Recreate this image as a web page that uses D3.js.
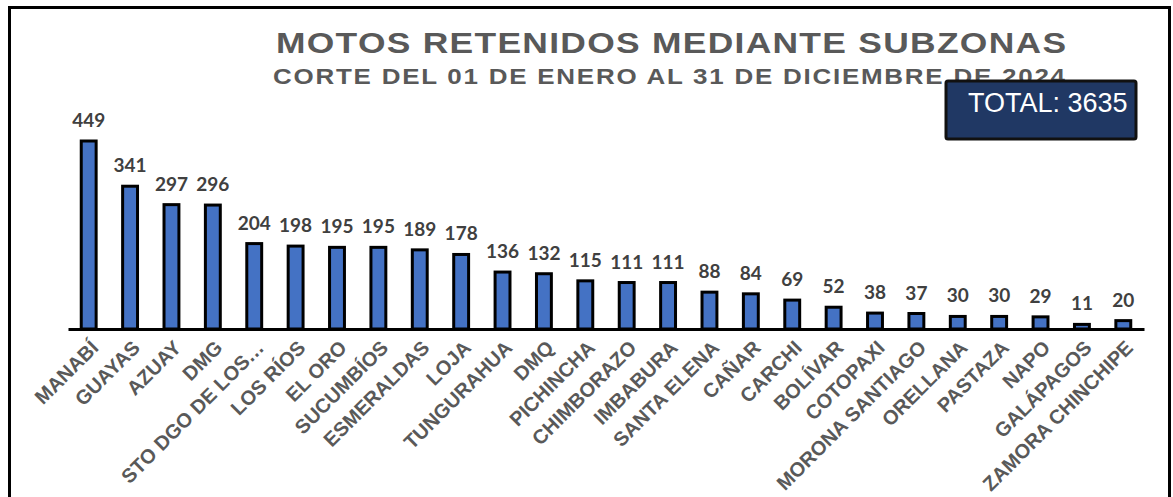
<!DOCTYPE html>
<html>
<head>
<meta charset="utf-8">
<title>Motos retenidos mediante subzonas</title>
<script src="https://d3js.org/d3.v7.min.js"></script>
<style>
  body { margin: 0; background: #fff; }
  svg { display: block; }
</style>
</head>
<body>
<div id="chart"></div>
<script>
// data
var categories = ["MANABÍ", "GUAYAS", "AZUAY", "DMG", "STO DGO DE LOS…", "LOS RÍOS", "EL ORO",
  "SUCUMBÍOS", "ESMERALDAS", "LOJA", "TUNGURAHUA", "DMQ", "PICHINCHA", "CHIMBORAZO",
  "IMBABURA", "SANTA ELENA", "CAÑAR", "CARCHI", "BOLÍVAR", "COTOPAXI", "MORONA SANTIAGO",
  "ORELLANA", "PASTAZA", "NAPO", "GALÁPAGOS", "ZAMORA CHINCHIPE"];
var values = [449, 341, 297, 296, 204, 198, 195, 195, 189, 178, 136, 132, 115, 111,
  111, 88, 84, 69, 52, 38, 37, 30, 30, 29, 11, 20];
var title = "MOTOS RETENIDOS MEDIANTE SUBZONAS";
var subtitle = "CORTE DEL 01 DE ENERO AL 31 DE DICIEMBRE DE 2024";
var totalLabel = "TOTAL: 3635";

var width = 1173, height = 497;
var baseY = 329;

var svg = d3.select("#chart").append("svg")
  .attr("width", width)
  .attr("height", height);

// outer frame
svg.append("rect")
  .attr("x", 9.5).attr("y", 7.5)
  .attr("width", 1160).attr("height", 520)
  .style("fill", "none")
  .style("stroke", "#000")
  .style("stroke-width", 3);

var x = d3.scaleBand()
  .domain(categories)
  .range([68, 1144])
  .paddingInner(0.64)
  .paddingOuter(0.32);

var y = d3.scaleLinear()
  .domain([0, 449])
  .range([baseY, 141]);

// titles (glyphs look stretched sideways in the original)
var stretch = 1.18;
svg.append("text")
  .attr("transform", "translate(671,53) scale(" + stretch + ",1)")
  .attr("text-anchor", "middle")
  .attr("textLength", 790 / stretch).attr("lengthAdjust", "spacing")
  .style("font-family", "'Liberation Sans', Arial, sans-serif")
  .style("font-weight", "bold")
  .style("font-size", "30px")
  .style("fill", "#595959")
  .text(title);

svg.append("text")
  .attr("transform", "translate(669,84) scale(" + stretch + ",1)")
  .attr("text-anchor", "middle")
  .attr("textLength", 792 / stretch).attr("lengthAdjust", "spacing")
  .style("font-family", "'Liberation Sans', Arial, sans-serif")
  .style("font-weight", "bold")
  .style("font-size", "22px")
  .style("fill", "#595959")
  .text(subtitle);

// bars
svg.selectAll("rect.bar")
  .data(values)
  .enter()
  .append("rect")
  .attr("class", "bar")
  .attr("x", function(d, i) { return x(categories[i]); })
  .attr("y", function(d) { return y(d); })
  .attr("width", x.bandwidth())
  .attr("height", function(d) { return baseY - y(d); })
  .style("fill", "#4472C4")
  .style("stroke", "#000")
  .style("stroke-width", 3);

// value labels
svg.selectAll("text.val")
  .data(values)
  .enter()
  .append("text")
  .attr("class", "val")
  .attr("x", function(d, i) { return x(categories[i]) + x.bandwidth() / 2; })
  .attr("y", function(d) { return y(d) - 14; })
  .attr("text-anchor", "middle")
  .style("font-family", "Lato, 'Open Sans', sans-serif")
  .style("font-weight", "bold")
  .style("font-size", "19px")
  .style("fill", "#404040")
  .text(function(d) { return d; });

// axis
var axis = svg.append("g")
  .attr("transform", "translate(0," + baseY + ")")
  .call(d3.axisBottom(x).tickSize(0).tickPadding(0));
axis.select(".domain")
  .style("stroke", "#000")
  .style("stroke-width", 3);
axis.selectAll("text")
  .attr("text-anchor", "end")
  .attr("dy", 0)
  .attr("transform", "translate(11,20) rotate(-45)")
  .style("font-family", "'Liberation Sans', Arial, sans-serif")
  .style("font-weight", "bold")
  .style("font-size", "20px")
  .style("fill", "#595959");

// total box
svg.append("rect")
  .attr("x", 946).attr("y", 81)
  .attr("width", 190).attr("height", 58)
  .attr("rx", 2)
  .style("fill", "#203864")
  .style("stroke", "#111")
  .style("stroke-width", 3);

svg.append("text")
  .attr("x", 968).attr("y", 112)
  .style("font-family", "'Liberation Sans', Arial, sans-serif")
  .style("font-size", "27px")
  .style("fill", "#fff")
  .text(totalLabel);
</script>
</body>
</html>
